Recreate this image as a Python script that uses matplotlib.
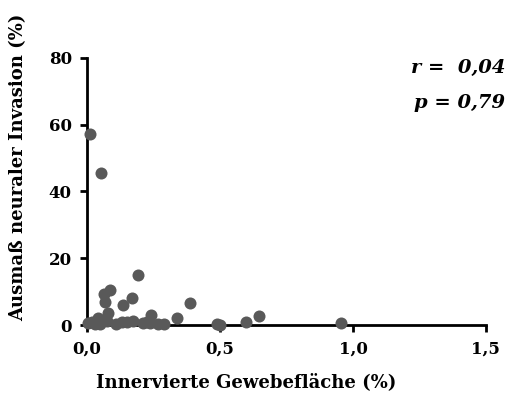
import matplotlib
matplotlib.use("Agg")
import matplotlib.pyplot as plt

# innervierte Gewebefläche (%) vs. Ausmaß neuraler Invasion (%)
flaeche = [0.010, 0.053, 0.193, 0.086, 0.064, 0.068, 0.170, 0.134, 0.387, 0.648,
           0.598, 0.490, 0.500, 0.340, 0.290, 0.240, 0.237, 0.210, 0.174, 0.149,
           0.130, 0.080, 0.074, 0.043, 0.018, 0.004, 0.049, 0.030, 0.955, 0.224,
           0.267, 0.108]
invasion = [57.2, 45.5, 14.9, 10.4, 9.2, 7.0, 8.0, 6.0, 6.5, 2.8,
            1.0, 0.3, 0.0, 2.0, 0.3, 3.0, 0.5, 0.5, 1.3, 1.0,
            1.0, 3.5, 1.3, 2.0, 1.0, 0.5, 0.3, 0.3, 0.5, 1.0,
            0.3, 0.3]
r_wert = "0,04"
p_wert = "0,79"

xticks = [0.0, 0.5, 1.0, 1.5]
xticklabels = ["0,0", "0,5", "1,0", "1,5"]
yticks = [0, 20, 40, 60, 80]

plt.rcParams['font.family'] = ['DejaVu Serif']
plt.rcParams['font.weight'] = 'bold'

fig = plt.figure(figsize=(5.12, 4.01), dpi=100)
ax = fig.add_axes([0.170, 0.1895, 0.779, 0.666])

ax.scatter(flaeche, invasion, s=75, color='#595959', zorder=3, clip_on=False,
           linewidths=0)

ax.set_xlim(0, 1.5)
ax.set_ylim(0, 80)
ax.set_xticks(xticks)
ax.set_xticklabels(xticklabels)
ax.set_yticks(yticks)

for side in ['top', 'right']:
    ax.spines[side].set_visible(False)
for side in ['left', 'bottom']:
    ax.spines[side].set_linewidth(2)
    ax.spines[side].set_color('black')
ax.tick_params(width=2, length=5, direction='out', labelsize=12, pad=6)
for lab in ax.get_xticklabels() + ax.get_yticklabels():
    lab.set_fontweight('bold')

ax.set_xlabel("Innervierte Gewebefläche (%)", fontsize=13, fontweight='bold')
ax.set_ylabel("Ausmaß neuraler Invasion (%)", fontsize=13, fontweight='bold')
ax.xaxis.set_label_coords(0.40, -0.213)
ax.yaxis.set_label_coords(-0.173, 0.59)
ax.xaxis.label.set_va('center')
ax.yaxis.label.set_va('center')

ax.text(1.048, 0.963, "r =  " + r_wert, transform=ax.transAxes, ha='right',
        va='center', fontsize=14, fontweight='bold', style='italic')
ax.text(1.048, 0.83, "p = " + p_wert, transform=ax.transAxes, ha='right',
        va='center', fontsize=14, fontweight='bold', style='italic')

fig.savefig("out.png", dpi=100)
